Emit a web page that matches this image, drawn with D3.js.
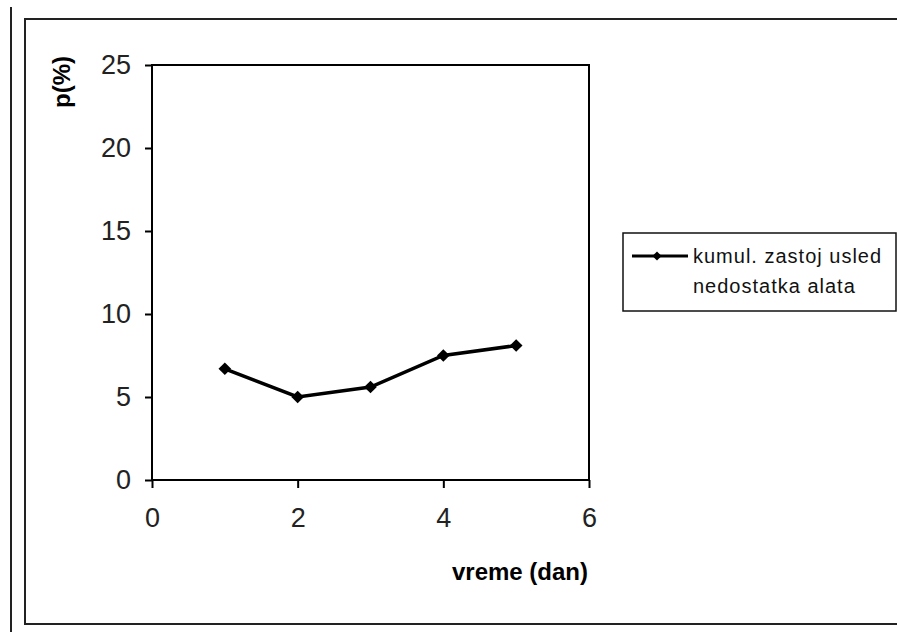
<!DOCTYPE html>
<html>
<head>
<meta charset="utf-8">
<script src="https://cdn.jsdelivr.net/npm/d3@7"></script>
<style>
  body { margin: 0; background: #fff; }
  svg { display: block; font-family: 'Liberation Sans', Arial, sans-serif; }
</style>
</head>
<body>
<div id="chart"></div>
<script>
// data
var days = [1, 2, 3, 4, 5];
var values = [6.7, 5.0, 5.6, 7.5, 8.1];
var xTicks = [0, 2, 4, 6];
var yTicks = [0, 5, 10, 15, 20, 25];
var seriesName = ['kumul. zastoj usled', 'nedostatka alata'];

var W = 897, H = 632;

var svg = d3.select('#chart').append('svg')
	.attr('width', W)
	.attr('height', H);

// outer lines / chart frame
svg.append('line')
	.attr('x1', 11).attr('x2', 11)
	.attr('y1', 7).attr('y2', H)
	.attr('stroke', '#222').attr('stroke-width', 2);

svg.append('path')
	.attr('d', 'M' + (W + 5) + ',19 H25 V624 H' + (W + 5))
	.attr('fill', 'none')
	.attr('stroke', '#222')
	.attr('stroke-width', 2);

var x = d3.scaleLinear().domain([0, 6]).range([152, 589]);
var y = d3.scaleLinear().domain([0, 25]).range([480, 65]);

// plot area frame
svg.append('rect')
	.attr('x', x(0)).attr('y', y(25))
	.attr('width', x(6) - x(0))
	.attr('height', y(0) - y(25))
	.attr('fill', 'none')
	.attr('stroke', '#000')
	.attr('stroke-width', 2);

var yAxis = svg.append('g')
	.attr('transform', 'translate(' + x(0) + ',0)')
	.call(d3.axisLeft(y).tickValues(yTicks).tickSize(7).tickPadding(14).tickFormat(d3.format('d')));

var xAxis = svg.append('g')
	.attr('transform', 'translate(0,' + y(0) + ')')
	.call(d3.axisBottom(x).tickValues(xTicks).tickSize(8).tickPadding(20).tickFormat(d3.format('d')));

[xAxis, yAxis].forEach(function(a) {
	a.select('.domain').remove();
	a.selectAll('.tick line').attr('stroke', '#000').attr('stroke-width', 2);
	a.selectAll('.tick text')
		.attr('fill', '#222')
		.style('font-size', '27px')
		.style('font-family', "'Liberation Sans', Arial, sans-serif");
});

// axis titles
svg.append('text')
	.attr('x', 520)
	.attr('y', 580)
	.attr('text-anchor', 'middle')
	.style('font-size', '24px')
	.style('font-weight', 'bold')
	.text('vreme (dan)');

svg.append('text')
	.attr('transform', 'translate(70,82) rotate(-90)')
	.attr('text-anchor', 'middle')
	.style('font-size', '24px')
	.style('font-weight', 'bold')
	.text('p(%)');

// series
var line = d3.line()
	.x(function(d, i) { return x(days[i]); })
	.y(function(d) { return y(d); });

svg.append('path')
	.datum(values)
	.attr('d', line)
	.attr('fill', 'none')
	.attr('stroke', '#000')
	.attr('stroke-width', 3.5);

var diamond = d3.symbol().type(d3.symbolSquare).size(80);

svg.selectAll('.pt')
	.data(values)
	.enter()
	.append('path')
	.attr('class', 'pt')
	.attr('d', diamond)
	.attr('transform', function(d, i) {
		return 'translate(' + x(days[i]) + ',' + y(d) + ') rotate(45)';
	})
	.attr('fill', '#000');

// legend
var legend = svg.append('g');

legend.append('rect')
	.attr('x', 623).attr('y', 233)
	.attr('width', 273).attr('height', 78)
	.attr('fill', '#fff')
	.attr('stroke', '#111')
	.attr('stroke-width', 1.5);

legend.append('line')
	.attr('x1', 632).attr('x2', 688)
	.attr('y1', 256).attr('y2', 256)
	.attr('stroke', '#000').attr('stroke-width', 3);

legend.append('path')
	.attr('d', d3.symbol().type(d3.symbolSquare).size(42))
	.attr('transform', 'translate(657,256) rotate(45)')
	.attr('fill', '#000');

legend.selectAll('.lt')
	.data(seriesName)
	.enter()
	.append('text')
	.attr('class', 'lt')
	.attr('x', 693)
	.attr('y', function(d, i) { return 263 + i * 30; })
	.style('font-size', '20px')
	.style('letter-spacing', '1px')
	.attr('fill', '#111')
	.text(function(d) { return d; });
</script>
</body>
</html>
